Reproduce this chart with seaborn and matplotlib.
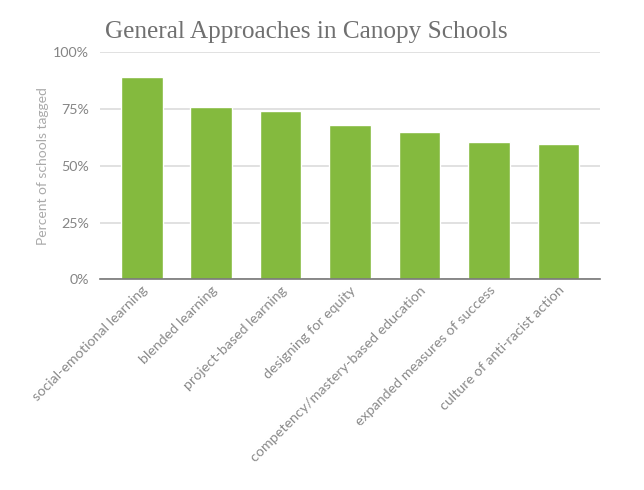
import matplotlib
matplotlib.use("Agg")
import matplotlib.pyplot as plt
import seaborn as sns
import pandas as pd
from matplotlib.ticker import PercentFormatter

# Dados
abordagens = [
    "social-emotional learning",
    "blended learning",
    "project-based learning",
    "designing for equity",
    "competency/mastery-based education",
    "expanded measures of success",
    "culture of anti-racist action",
]
percentuais = [89.1, 75.8, 74.3, 68.2, 65.1, 60.5, 59.7]

df = pd.DataFrame({"Abordagem": abordagens, "Percentual": percentuais})

sns.set_style("white")
plt.rcParams["font.family"] = ["Lato", "DejaVu Sans"]

fig = plt.figure(figsize=(6.44, 4.9), dpi=100)
ax = fig.add_axes([0.1553, 0.43, 0.7764, 0.463])

sns.barplot(data=df, x="Abordagem", y="Percentual", color="#84BA3E",
            width=0.6, saturation=1, ax=ax, zorder=3)

ax.set_ylim(0, 100)
ax.set_xlim(-0.6, 6.6)
ax.set_yticks([0, 25, 50, 75, 100])
ax.yaxis.set_major_formatter(PercentFormatter(decimals=0))
ax.grid(axis="y", color="#dcdcdc", linewidth=1.2, zorder=0)
for s in ["top", "right", "left"]:
    ax.spines[s].set_visible(False)
ax.spines["bottom"].set_color("#777777")
ax.spines["bottom"].set_linewidth(1.2)
ax.spines["bottom"].set_zorder(4)
ax.tick_params(axis="both", length=0, colors="#858585", labelsize=10.3)
ax.tick_params(axis="y", pad=8)
plt.setp(ax.get_xticklabels(), rotation=45, ha="right", rotation_mode="anchor",
         color="#8a8a8a")
ax.set_xlabel("")
ax.set_ylabel("Percent of schools tagged", color="#aaaaaa", fontsize=10,
              labelpad=3)

fig.text(0.163, 0.922, "General Approaches in Canopy Schools",
         family=["Liberation Serif", "DejaVu Serif"], fontsize=18.2,
         color="#707070", va="baseline")

fig.savefig("out.png", dpi=100)
